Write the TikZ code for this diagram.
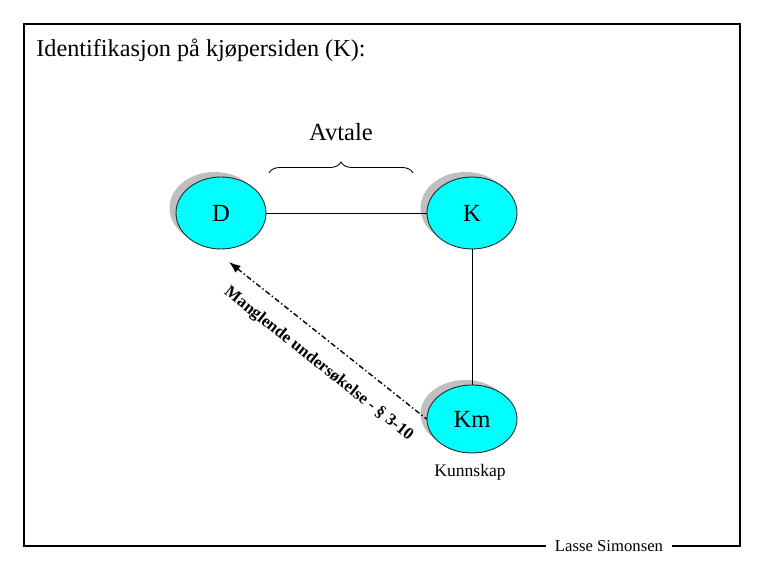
\documentclass[tikz,border=0pt]{standalone}
\usepackage{fontspec}
\setmainfont{Liberation Serif}
\usetikzlibrary{arrows.meta, shapes.geometric, shadows, decorations.pathreplacing}
\definecolor{partyfill}{RGB}{0,255,255}

\begin{document}
\begin{tikzpicture}[x=0.02cm, y=-0.02cm, >=Latex,
    party/.style={ellipse, draw=black!85, line width=0.5pt, fill=partyfill,
      minimum width=1.8cm, minimum height=1.44cm, inner sep=0pt,
      font=\fontsize{14}{16}\selectfont,
      drop shadow={fill=black!25, opacity=1, shadow xshift=-0.13cm, shadow yshift=0.1cm}},
    link/.style={line width=0.5pt}]
  \useasboundingbox (0,0) rectangle (765,570);
  % frame with author in the bottom edge
  \node[font=\fontsize{9.5}{11}\selectfont, inner xsep=5pt] (author) at (609,546) {Lasse Simonsen};
  \draw[line width=0.7pt] (author.east) -- (740,546) -- (740,24) -- (24,24) -- (24,546) -- (author.west);
  \node[anchor=base west, inner sep=0pt, font=\fontsize{13.8}{16}\selectfont] (title) at (36,57)
    {Identifikasjon på kjøpersiden (K):};
  % parties
  \node[party] (D) at (221,213) {D};
  \node[party] (K) at (472,213) {K};
  \node[party, minimum height=1.36cm] (Km) at (472,419) {Km};
  \node[anchor=base, inner sep=0pt, font=\fontsize{10}{12}\selectfont] (kunnskap) at (470,477) {Kunnskap};
  % agreement
  \draw[link] (D) -- (K);
  \draw[link] (K) -- (Km);
  \coordinate (bl) at (269,173);
  \coordinate (br) at (413,173);
  \draw[decorate, decoration={brace, amplitude=0.22cm}, line width=0.5pt] (bl) -- (br);
  \node[anchor=base, inner sep=0pt, font=\fontsize{14}{16}\selectfont] (avtale) at (341,141) {Avtale};
  % missing inspection
  \coordinate (tip) at (229,262);
  \draw[<-, line width=0.8pt, dash pattern=on 3pt off 1.5pt on 0.8pt off 1.5pt] (tip) -- (Km.west)
    node[sloped, below=0.2cm, pos=0.53, font=\bfseries\fontsize{9.6}{12}\selectfont] (brudd)
    {Manglende undersøkelse - § 3-10};
\end{tikzpicture}
\end{document}
